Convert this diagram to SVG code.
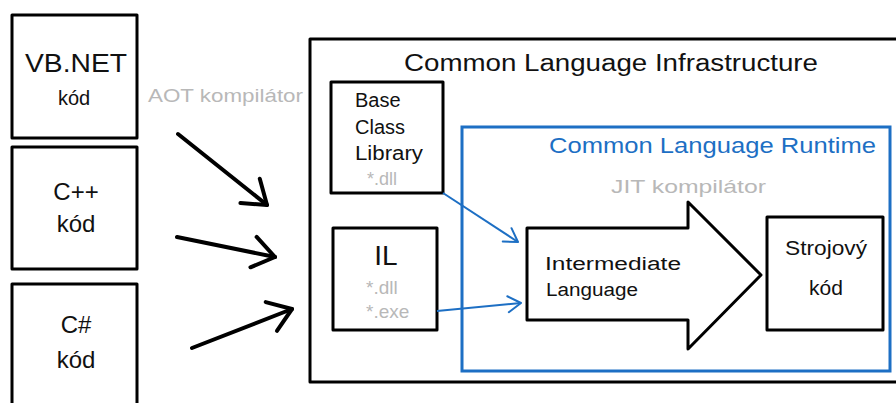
<svg xmlns="http://www.w3.org/2000/svg" width="896" height="403" viewBox="0 0 896 403">
<defs>
<style>
.box{fill:#fff;stroke:#000;stroke-width:3;stroke-linejoin:round;stroke-linecap:round}
.blue{fill:none;stroke:#1d6fc4;stroke-width:3}
.t{font-family:"Liberation Sans",Arial,sans-serif;fill:#111}
.g{font-family:"Liberation Sans",Arial,sans-serif;fill:#b8b8b8}
.bt{font-family:"Liberation Sans",Arial,sans-serif;fill:#1d6fc4}
.aot{fill:none;stroke:#000;stroke-width:4;stroke-linecap:round}
.bl{fill:none;stroke:#1d6fc4;stroke-width:2}
</style>
<marker id="ah" markerUnits="userSpaceOnUse" markerWidth="40" markerHeight="40" viewBox="-30 -20 34 40" refX="0" refY="0" orient="auto">
<path d="M-22,-16 L0,0 L-22,15" fill="none" stroke="#000" stroke-width="4" stroke-linecap="round" stroke-linejoin="round"/>
</marker>
<marker id="bh" markerUnits="userSpaceOnUse" markerWidth="24" markerHeight="24" viewBox="-16 -12 20 24" refX="0" refY="0" orient="auto">
<path d="M-13,-8 L0,0 L-13,8" fill="none" stroke="#1d6fc4" stroke-width="2" stroke-linecap="round" stroke-linejoin="round"/>
</marker>
</defs>
<rect width="896" height="403" fill="#fff"/>

<g id="vbnet">
<rect class="box" x="12" y="15" width="125" height="123"/>
<text class="t" x="76" y="72" font-size="25" text-anchor="middle" textLength="102" lengthAdjust="spacingAndGlyphs">VB.NET</text>
<text class="t" x="74" y="105" font-size="20" text-anchor="middle">kód</text>
</g>
<g id="cpp">
<rect class="box" x="12" y="147" width="125" height="122"/>
<text class="t" x="76" y="200" font-size="24" text-anchor="middle">C++</text>
<text class="t" x="76" y="232" font-size="24" text-anchor="middle">kód</text>
</g>
<g id="csharp">
<rect class="box" x="12" y="284" width="125" height="130"/>
<text class="t" x="76" y="333" font-size="24" text-anchor="middle">C#</text>
<text class="t" x="76" y="368" font-size="24" text-anchor="middle">kód</text>
</g>
<text class="g" x="148" y="102" font-size="19" textLength="155" lengthAdjust="spacingAndGlyphs">AOT kompilátor</text>

<g id="cli">
<path class="box" d="M900,39 H310 V382 H900" fill="none"/>
<text class="t" x="404" y="71" font-size="23" textLength="414" lengthAdjust="spacingAndGlyphs">Common Language Infrastructure</text>
</g>

<g id="bcl">
<rect class="box" x="331" y="82" width="112" height="111"/>
<text class="t" x="355" y="107" font-size="20">Base</text>
<text class="t" x="355" y="134" font-size="20">Class</text>
<text class="t" x="355" y="160" font-size="20" textLength="68" lengthAdjust="spacingAndGlyphs">Library</text>
<text class="g" x="367" y="185" font-size="18">*.dll</text>
</g>

<g id="il">
<rect class="box" x="333" y="228" width="104" height="102"/>
<text class="t" x="386" y="265" font-size="28" text-anchor="middle">IL</text>
<text class="g" x="366" y="294" font-size="19">*.dll</text>
<text class="g" x="366" y="318" font-size="19">*.exe</text>
</g>

<g id="clr">
<rect class="blue" x="462" y="127" width="428" height="244"/>
<text class="bt" x="549" y="153" font-size="22" textLength="327" lengthAdjust="spacingAndGlyphs">Common Language Runtime</text>
<text class="g" x="611" y="193" font-size="19" textLength="155" lengthAdjust="spacingAndGlyphs">JIT kompilátor</text>
</g>

<g id="intermediate">
<path class="box" d="M688,228 H527 V320 H688 V349 L761,275 L688,202 Z"/>
<text class="t" x="545" y="270" font-size="18" textLength="136" lengthAdjust="spacingAndGlyphs">Intermediate</text>
<text class="t" x="546" y="296" font-size="18" textLength="92" lengthAdjust="spacingAndGlyphs">Language</text>
</g>

<g id="native">
<rect class="box" x="767" y="217" width="116" height="113"/>
<text class="t" x="826" y="255" font-size="21" text-anchor="middle" textLength="82" lengthAdjust="spacingAndGlyphs">Strojový</text>
<text class="t" x="826" y="295" font-size="21" text-anchor="middle">kód</text>
</g>

<g id="connectors">
<path class="aot" d="M178,134 L267,205" marker-end="url(#ah)"/>
<path class="aot" d="M177,237 L275,257" marker-end="url(#ah)"/>
<path class="aot" d="M192,348 L292,309" marker-end="url(#ah)"/>
<path class="bl" d="M443,193 L518,242" marker-end="url(#bh)"/>
<path class="bl" d="M437,311 L521,303" marker-end="url(#bh)"/>
</g>
</svg>
